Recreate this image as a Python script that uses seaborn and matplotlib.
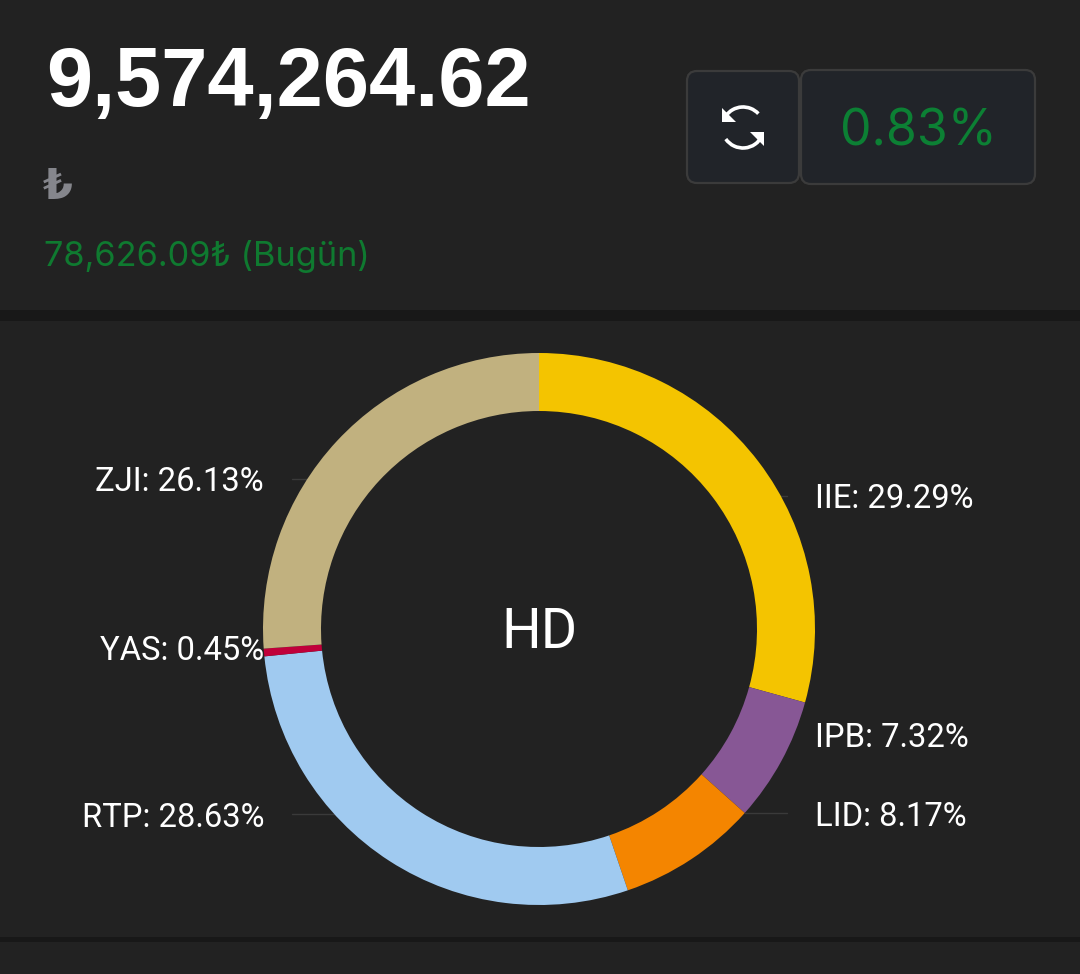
import matplotlib
matplotlib.use("Agg")
import matplotlib.pyplot as plt
from matplotlib.patches import Arc, FancyBboxPatch, Polygon, Rectangle
import seaborn as sns

# holdings shown on the ring, clockwise from the top
tickers = ['IIE', 'IPB', 'LID', 'RTP', 'YAS', 'ZJI']
shares = [29.29, 7.32, 8.17, 28.63, 0.45, 26.13]
colors = ['#f4c400', '#875795', '#f48500', '#a0caf0', '#c0003a', '#c1b17f']

total_text = '9,574,264.62'
currency_text = '₺'
today_text = '78,626.09₺ (Bugün)'
change_text = '0.83%'
center_text = 'HD'

BG = '#222222'
BAND = '#181818'
GREEN = '#0f7a30'

sns.set_theme(style='dark', rc={'figure.facecolor': BG, 'axes.facecolor': BG,
                                'savefig.facecolor': BG, 'text.color': 'white'})
plt.rcParams['font.family'] = ['Roboto', 'DejaVu Sans']

fig = plt.figure(figsize=(10.8, 9.74), dpi=100)

# page layer in pixel coordinates
page = fig.add_axes([0, 0, 1, 1])
page.set_xlim(0, 1080)
page.set_ylim(974, 0)
page.axis('off')

# section dividers
page.add_patch(Rectangle((0, 310), 1080, 11, color=BAND, lw=0))
page.add_patch(Rectangle((0, 937), 1080, 5, color=BAND, lw=0))

# header
page.text(46, 106, total_text, fontsize=59.8, fontweight='bold', color='white', va='baseline',
          family=['Liberation Sans', 'DejaVu Sans'])
page.text(43, 199, currency_text, fontsize=31, fontweight='bold', color='#85868c', va='baseline',
          family=['DejaVu Sans'])
page.text(44, 266, today_text, fontsize=24.7, color=GREEN, va='baseline',
          family=['Inter', 'Noto Sans', 'DejaVu Sans'])

# buttons
for x0, y0, w, h in [(687, 71, 112, 112), (801, 70, 234, 114)]:
    page.add_patch(FancyBboxPatch((x0 + 10, y0 + 10), w - 20, h - 20,
                                  boxstyle='round,pad=10,rounding_size=10',
                                  fc='#212429', ec='#3b3b3b', lw=1.6))
page.text(918, 127, change_text, fontsize=36, color='#0c8034', ha='center', va='center_baseline',
          family=['Inter', 'DejaVu Sans'])

# refresh icon
page.add_patch(Arc((743, 128), 42, 42, theta1=215, theta2=317, color='white', lw=2.6))
page.add_patch(Arc((743, 127), 42, 42, theta1=25, theta2=145, color='white', lw=2.6))
page.add_patch(Polygon([(722, 122), (722, 108), (736, 122)], color='white', lw=0))
page.add_patch(Polygon([(764, 146), (764, 132), (750, 132)], color='white', lw=0))

# leader lines sit behind the ring
for x0, x1, y in [(292, 320, 479), (292, 340, 814), (745, 787, 813), (730, 787, 735), (780, 787, 496)]:
    page.plot([x0, x1], [y, y], color='#3a3a3a', lw=1)

# ring
ring = fig.add_axes([(539 - 276) / 1080, (974 - 629 - 276) / 974, 552 / 1080, 552 / 974])
ring.patch.set_alpha(0)
ring.pie(shares, colors=colors, startangle=90, counterclock=False, radius=1,
         wedgeprops={'width': 58 / 276, 'linewidth': 0})
ring.set_xlim(-1, 1)
ring.set_ylim(-1, 1)

# text layer above the ring
top = fig.add_axes([0, 0, 1, 1])
top.set_xlim(0, 1080)
top.set_ylim(974, 0)
top.axis('off')
top.patch.set_alpha(0)
top.text(539, 633, center_text, fontsize=40, color='white', ha='center', va='center')

label_x = [815, 815, 815, 264, 264, 264]
label_y = [499, 738, 817, 818, 651, 482]
label_ha = ['left', 'left', 'left', 'right', 'right', 'right']
for name, share, x, y, ha in zip(tickers, shares, label_x, label_y, label_ha):
    top.text(x, y, f'{name}: {share:.2f}%', fontsize=23.6, color='white', ha=ha, va='center')

fig.savefig('out.png', dpi=100)
